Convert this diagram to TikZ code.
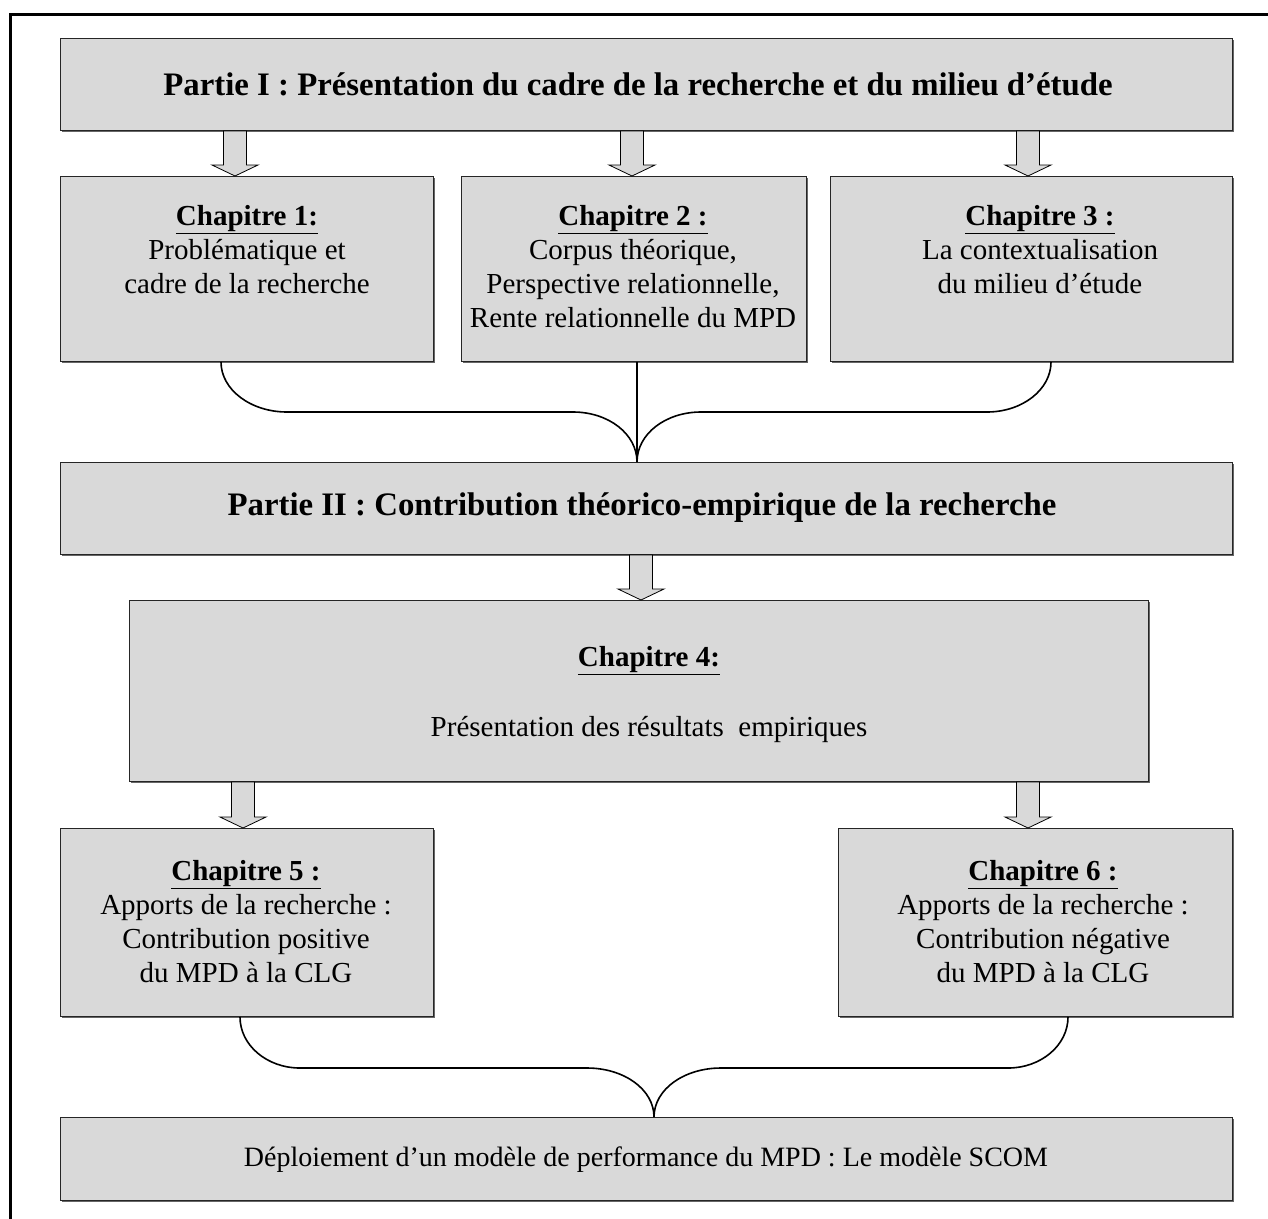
\documentclass[tikz,border=0pt]{standalone}
\usepackage{fontspec}
\setmainfont{Liberation Serif}
\usetikzlibrary{calc,shadows}
\definecolor{boxgray}{HTML}{D9D9D9}
\tikzset{
 box/.style={draw=black!85, line width=1pt, fill=boxgray, inner sep=0pt, anchor=north west,
   general shadow={shadow xshift=1.2pt,shadow yshift=-1.2pt,fill=black!60}},
 txt/.style={font=\fontsize{29}{34}\selectfont, align=center, inner sep=0pt},
 ttl/.style={font=\fontsize{32.8}{38}\selectfont\bfseries, inner sep=0pt},
 barrow/.style={draw=black, line width=0.8pt, fill=boxgray, line join=miter},
 brace/.style={draw=black, line width=1.6pt},
 frame/.style={draw=black, line width=3pt},
}
\newcommand\hd[1]{\textbf{\underline{#1}}}
% block arrow: x position, upper node, lower node
\newcommand\barr[3]{\draw[barrow] let \p1=(#2.south), \p2=(#3.north) in
  (#1pt-11.5pt,\y1) -- (#1pt+11.5pt,\y1) -- (#1pt+11.5pt,\y2+11pt) -- (#1pt+23pt,\y2+11pt)
  -- (#1pt,\y2) -- (#1pt-23pt,\y2+11pt) -- (#1pt-11.5pt,\y2+11pt) -- cycle;}
\begin{document}
\begin{tikzpicture}[x=1pt,y=-1pt]
\useasboundingbox (0,0) rectangle (1268,1218);
\draw[frame] (10,14) rectangle (1290,1240);

% boxes
\node[box, minimum width=1172pt, minimum height=92pt] (p1) at (60,38) {};
\node[box, minimum width=373pt, minimum height=185pt] (c1) at (60,176) {};
\node[box, minimum width=345pt, minimum height=185pt] (c2) at (461,176) {};
\node[box, minimum width=402pt, minimum height=185pt] (c3) at (830,176) {};
\node[box, minimum width=1172pt, minimum height=92pt] (p2) at (60,462) {};
\node[box, minimum width=1019pt, minimum height=181pt] (c4) at (129,600) {};
\node[box, minimum width=373pt, minimum height=188pt] (c5) at (60,828) {};
\node[box, minimum width=394pt, minimum height=188pt] (c6) at (838,828) {};
\node[box, minimum width=1172pt, minimum height=83pt] (fin) at (60,1117) {};

% texts
\node[ttl] (tp1) at (638,84) {Partie I : Présentation du cadre de la recherche et du milieu d’étude};
\node[txt, anchor=north] (tc1) at (247,205.5) {\hd{Chapitre 1:}\\Problématique et\\cadre de la recherche};
\node[txt, anchor=north] (tc2) at (633,205.5) {\hd{Chapitre 2 :}\\Corpus théorique,\\Perspective relationnelle,\\Rente relationnelle du MPD};
\node[txt, anchor=north] (tc3) at (1040,205.5) {\hd{Chapitre 3 :}\\La contextualisation\\du milieu d’étude};
\node[ttl] (tp2) at (642,508) {Partie II : Contribution théorico-empirique de la recherche};
\node[txt] (tc4h) at (649,661) {\hd{Chapitre 4:}};
\node[txt] (tc4) at (649,729) {Présentation des résultats~ empiriques};
\node[txt, anchor=north] (tc5) at (246,860.5) {\hd{Chapitre 5 :}\\Apports de la recherche :\\Contribution positive\\du MPD à la CLG};
\node[txt, anchor=north] (tc6) at (1043,860.5) {\hd{Chapitre 6 :}\\Apports de la recherche :\\Contribution négative\\du MPD à la CLG};
\node[txt, font=\fontsize{28}{34}\selectfont] (tfin) at (646,1160) {Déploiement d’un modèle de performance du MPD : Le modèle SCOM};

% block arrows
\barr{235}{p1}{c1}
\barr{632}{p1}{c2}
\barr{1028}{p1}{c3}
\barr{641}{p2}{c4}
\barr{243}{c4}{c5}
\barr{1028}{c4}{c6}

% brace 1
\coordinate (tip1) at (637,462);
\draw[brace] let \p1=(c1.south), \p2=(tip1) in
  (221pt,\y1) .. controls (221pt,\y1-27.6pt) and (250.6pt,\y1-50pt) .. (287pt,\y1-50pt)
  -- (573pt,\y1-50pt) .. controls (608.3pt,\y1-50pt) and (\x2,\y2+28.2pt) .. (\x2,\y2)
  .. controls (\x2,\y2+28.2pt) and (665.7pt,\y1-50pt) .. (701pt,\y1-50pt)
  -- (987pt,\y1-50pt) .. controls (1022.3pt,\y1-50pt) and (1051pt,\y1-27.6pt) .. (1051pt,\y1);
\draw[brace] (c2.south -| tip1) -- (tip1);

% brace 2
\coordinate (tip2) at (654,1117);
\draw[brace] let \p1=(c5.south), \p2=(tip2) in
  (240pt,\y1) .. controls (240pt,\y1-28.2pt) and (266.9pt,\y1-51pt) .. (300pt,\y1-51pt)
  -- (587pt,\y1-51pt) .. controls (624pt,\y1-51pt) and (\x2,\y2+27.6pt) .. (\x2,\y2)
  .. controls (\x2,\y2+27.6pt) and (684pt,\y1-51pt) .. (721pt,\y1-51pt)
  -- (1008pt,\y1-51pt) .. controls (1041.1pt,\y1-51pt) and (1068pt,\y1-28.2pt) .. (1068pt,\y1);
\end{tikzpicture}
\end{document}
